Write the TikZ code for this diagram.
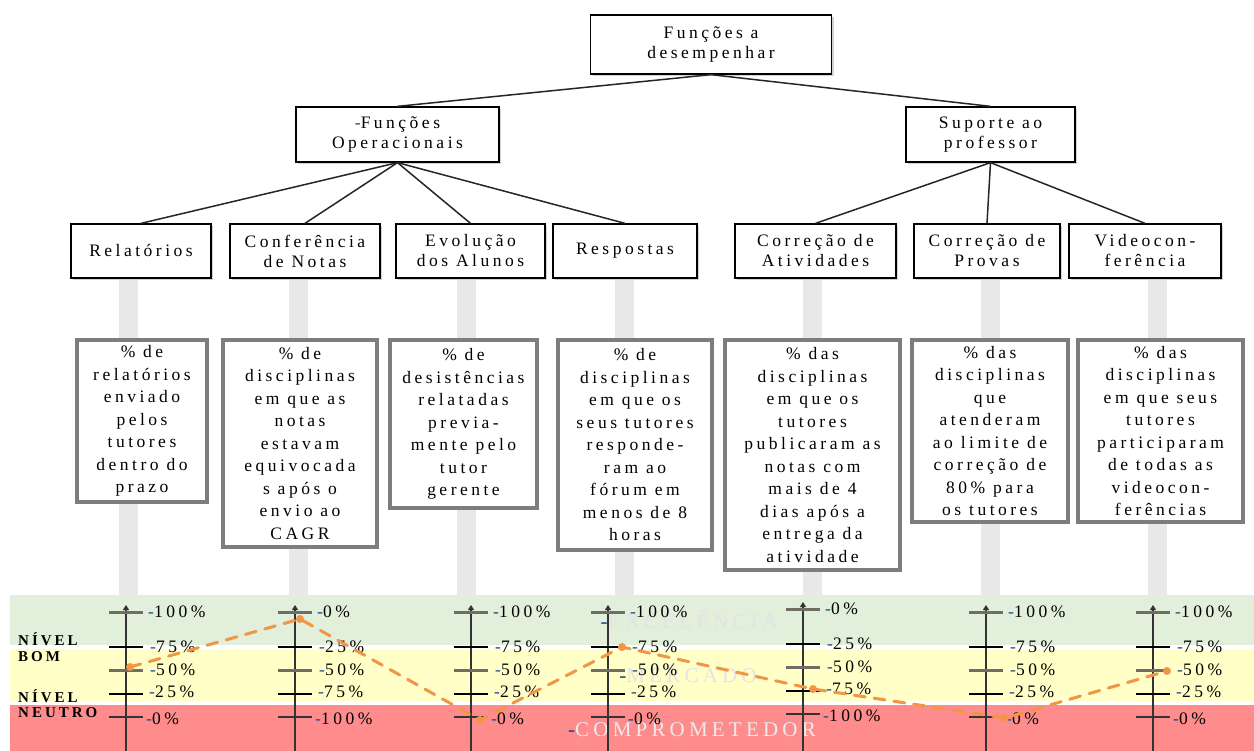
\documentclass[tikz,border=0pt]{standalone}
\usepackage{fontspec}
\setmainfont{Liberation Serif}
\newfontfamily\wf[LetterSpace=20]{Liberation Serif}
\usetikzlibrary{shadows,arrows.meta}
\definecolor{bandG}{RGB}{226,239,218}
\definecolor{bandY}{RGB}{255,255,199}
\definecolor{bandR}{RGB}{255,140,140}
\definecolor{orng}{RGB}{240,150,70}
\definecolor{barg}{RGB}{232,232,232}
\definecolor{tickg}{RGB}{110,110,100}
\definecolor{dashb}{RGB}{30,70,140}
\definecolor{wmk}{RGB}{226,226,232}
\definecolor{mframe}{RGB}{125,125,125}
\tikzset{
  hbox/.style={draw=black, line width=1.3pt, fill=white, align=center, inner sep=0pt,
    font=\wf\fontsize{17.5}{20}\selectfont,
    drop shadow={shadow xshift=2pt, shadow yshift=-2pt, opacity=0.35}},
  mbox/.style={draw=mframe, line width=3.5pt, fill=white, align=center, inner sep=0pt,
    font=\wf\fontsize{17.5}{22.5}\selectfont,
    drop shadow={shadow xshift=2pt, shadow yshift=-2pt, opacity=0.3}},
  conn/.style={line width=1.5pt, draw=black!85},
  axisline/.style={line width=2pt, draw=black!80, -{Triangle[length=5pt,width=6pt]}},
  tkA/.style={line width=3pt, draw=tickg},
  tkB/.style={line width=2pt, draw=black},
  tkC/.style={line width=1.5pt, draw=black!80},
  pct/.style={anchor=west, inner sep=0pt, font=\wf\fontsize{17.5}{18}\selectfont},
  wmtext/.style={inner sep=0pt, text=wmk, font=\wf\fontsize{21}{22}\selectfont},
  lvl/.style={anchor=west, inner sep=0pt, font=\wf\bfseries\fontsize{15}{16}\selectfont},
  trend/.style={draw=orng, line width=3pt, dash pattern=on 11pt off 9pt, line cap=round}
}
\newcommand{\bdash}{\textcolor{dashb}{-}}
\begin{document}
\begin{tikzpicture}[x=1pt,y=-1pt]
\useasboundingbox (0,0) rectangle (1254,751);
\fill[white] (0,0) rectangle (1254,751);
% gray bars
\foreach \bx in {128,298,466,624,812,990,1157}
  \fill[barg] (\bx-9.5,280) rectangle (\bx+9.5,596);
% bands
\fill[bandG] (10,595) rectangle (1254,645);
\fill[bandY] (10,649) rectangle (1254,701);
\fill[bandR] (10,705) rectangle (1254,751);
% watermark texts
\node[wmtext] (wm1) at (689,620) {\bdash EXCELÊNCIA};
\node[wmtext] (wm2) at (688,676) {\bdash MERCADO};
\node[wmtext, text=white!92!black] (wm3) at (692,730) {\bdash COMPROMETEDOR};
% level labels
\node[lvl] (nb1) at (18,639) {NÍVEL};
\node[lvl] (nb2) at (18,657) {BOM};
\node[lvl] (nn1) at (18,696) {NÍVEL};
\node[lvl] (nn2) at (18,713) {NEUTRO};
% hierarchy
\node[hbox, minimum width=241, minimum height=59] (top) at (711,44.5) {Funções a\\desempenhar};
\node[hbox, minimum width=203, minimum height=55] (ops) at (397.5,134.5) {\bdash Funções\\Operacionais};
\node[hbox, minimum width=169, minimum height=55] (sup) at (990.5,134.5) {Suporte ao\\professor};
\node[hbox, minimum width=140, minimum height=54] (rel) at (141,251) {Relatórios};
\node[hbox, minimum width=150, minimum height=54] (conf) at (305,251) {Conferência\\de Notas};
\node[hbox, minimum width=149, minimum height=54] (evo) at (470.5,251) {Evolução\\dos Alunos};
\node[hbox, minimum width=144, minimum height=54] (resp) at (625,251) {Respostas};
\node[hbox, minimum width=161, minimum height=54] (cat) at (815.5,251) {Correção de\\Atividades};
\node[hbox, minimum width=146, minimum height=54] (cpr) at (987,251) {Correção de\\Provas};
\node[hbox, minimum width=152, minimum height=54] (vid) at (1145,251) {Videocon-\\ferência};
\draw[conn] (top.south) -- (ops.north);
\draw[conn] (top.south) -- (sup.north);
\foreach \c in {rel,conf,evo,resp} \draw[conn] (ops.south) -- (\c.north);
\foreach \c in {cat,cpr,vid} \draw[conn] (sup.south) -- (\c.north);
% indicator boxes
\node[mbox, minimum width=130, minimum height=162] (m1) at (142,421)
  {\% de\\relatórios\\enviado\\pelos\\tutores\\dentro do\\prazo};
\node[mbox, minimum width=154, minimum height=207] (m2) at (300,443.5)
  {\% de\\disciplinas\\em que as\\notas\\estavam\\equivocada\\s após o\\envio ao\\CAGR};
\node[mbox, minimum width=147, minimum height=168] (m3) at (463.5,424)
  {\% de\\desistências\\relatadas\\previa-\\mente pelo\\tutor\\gerente};
\node[mbox, minimum width=154, minimum height=210] (m4) at (635,445)
  {\% de\\disciplinas\\em que os\\seus tutores\\responde-\\ram ao\\fórum em\\menos de 8\\horas};
\node[mbox, minimum width=175, minimum height=230] (m5) at (812.5,455)
  {\% das\\disciplinas\\em que os\\tutores\\publicaram as\\notas com\\mais de 4\\dias após a\\entrega da\\atividade};
\node[mbox, minimum width=156, minimum height=182] (m6) at (990,431)
  {\% das\\disciplinas\\que\\atenderam\\ao limite de\\correção de\\80\% para\\os tutores};
\node[mbox, minimum width=165, minimum height=182] (m7) at (1160.5,431)
  {\% das\\disciplinas\\em que seus\\tutores\\participaram\\de todas as\\videocon-\\ferências};
% scales
\foreach \x/\dy/\a/\b/\c/\d/\e [count=\i] in {126/0/100/75/50/25/0, 295/0/0/25/50/75/100,
    471/0/100/75/50/25/0, 608/0/100/75/50/25/0, 803/3/0/25/50/75/100,
    986/0/100/75/50/25/0, 1153/0/100/75/50/25/0}{
  \draw[axisline] (\x,751) -- (\x,605-\dy);
  \foreach \ty/\ts in {612/tkA,647/tkB,670/tkA,694/tkB,717/tkC}
    \draw[\ts] (\x-17,\ty-\dy) -- (\x+17,\ty-\dy);
  \node[pct] (s\i a) at (\x+22,612-\dy) {\bdash\a\%};
  \node[pct] (s\i b) at (\x+24,647-\dy) {\bdash\b\%};
  \node[pct] (s\i c) at (\x+24,670-\dy) {\bdash\c\%};
  \node[pct] (s\i d) at (\x+23,692-\dy) {\bdash\d\%};
  \node[pct] (s\i e) at (\x+20,719-\dy) {\bdash\e\%};
}
% trend line
\coordinate (p1) at (130,667);
\coordinate (p2) at (300,619);
\coordinate (p3) at (480,720);
\coordinate (p4) at (622,647);
\coordinate (p5) at (813,689);
\coordinate (p6) at (1005,718);
\coordinate (p7) at (1167,671);
\draw[trend] (p1) -- (p2) -- (p3) -- (p4) -- (p5) -- (p6) -- (p7);
\foreach \p in {p1,p2,p3,p4,p5,p6,p7} \fill[orng] (\p) circle (4pt);
\end{tikzpicture}
\end{document}
